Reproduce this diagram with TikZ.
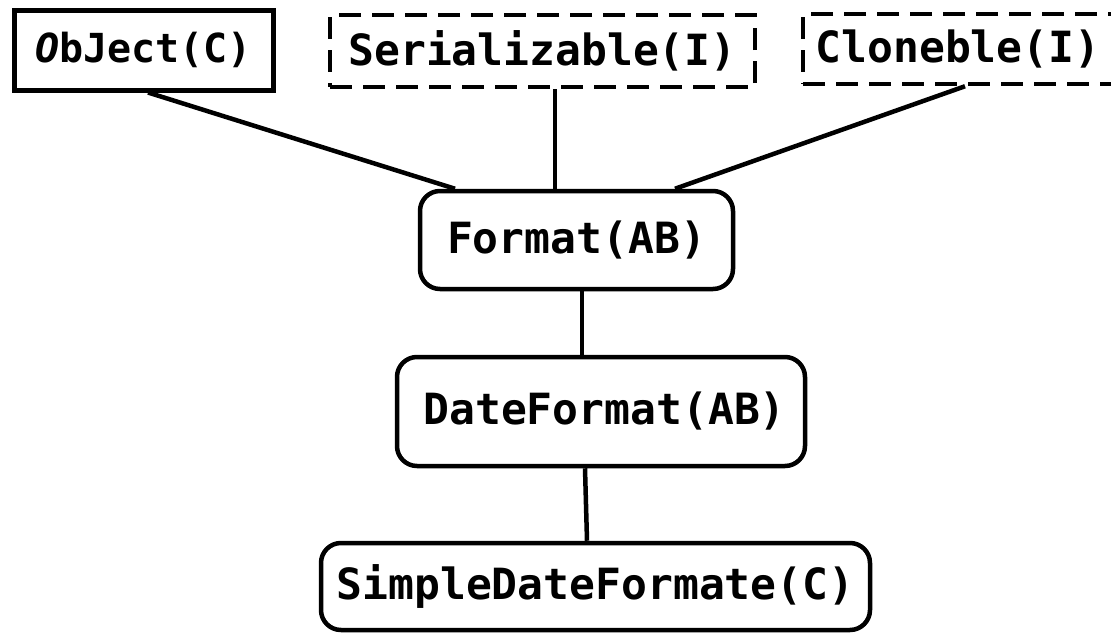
\documentclass[tikz,border=0pt]{standalone}
\usepackage{fontspec}
\newfontfamily\codefont{DejaVu Sans Mono}
\begin{document}
\begin{tikzpicture}[x=1pt,y=-1pt,
  lbl/.style={font=\codefont\bfseries\fontsize{43}{48}\selectfont, inner sep=0pt, anchor=center},
  solidbox/.style={lbl, draw, line width=5pt},
  dashbox/.style={lbl, draw, line width=4.5pt, dash pattern=on 22pt off 11pt},
  roundbox/.style={lbl, draw, line width=4.5pt, rounded corners=20pt},
  conn/.style={line width=4.5pt}]
\useasboundingbox (0,0) rectangle (1111,635);
\clip (0,0) rectangle (1111,635);
\node[solidbox, minimum width=259pt, minimum height=80pt, font=\codefont\bfseries\fontsize{40}{46}\selectfont] (obj) at (143.5,50) {{\itshape O}bJect(C)};
\node[dashbox, minimum width=425pt, minimum height=72pt] (ser) at (542.5,51) {Serializable(I)};
\node[dashbox, minimum width=310pt, minimum height=70pt] (clo) at (958,49) {Cloneble(I)};
\node[roundbox, minimum width=313pt, minimum height=98pt] (fmt) at (576.5,240) {Format(AB)};
\node[roundbox, minimum width=408pt, minimum height=109pt] (date) at (601,411.5) {\,DateFormat(AB)};
\node[roundbox, minimum width=549pt, minimum height=87pt] (sdf) at (595.5,586.5) {SimpleDateFormate(C)};
\draw[conn] ([xshift=4.5pt]obj.south) -- ([xshift=-121.5pt]fmt.north);
\draw[conn] ([xshift=12.5pt]ser.south) -- ([xshift=-21.5pt]fmt.north);
\draw[conn] ([xshift=7pt]clo.south) -- ([xshift=98.5pt]fmt.north);
\draw[conn] ([xshift=5.5pt]fmt.south) -- ([xshift=-19pt]date.north);
\draw[conn] ([xshift=-16pt]date.south) -- ([xshift=-8.5pt]sdf.north);
\end{tikzpicture}
\end{document}
